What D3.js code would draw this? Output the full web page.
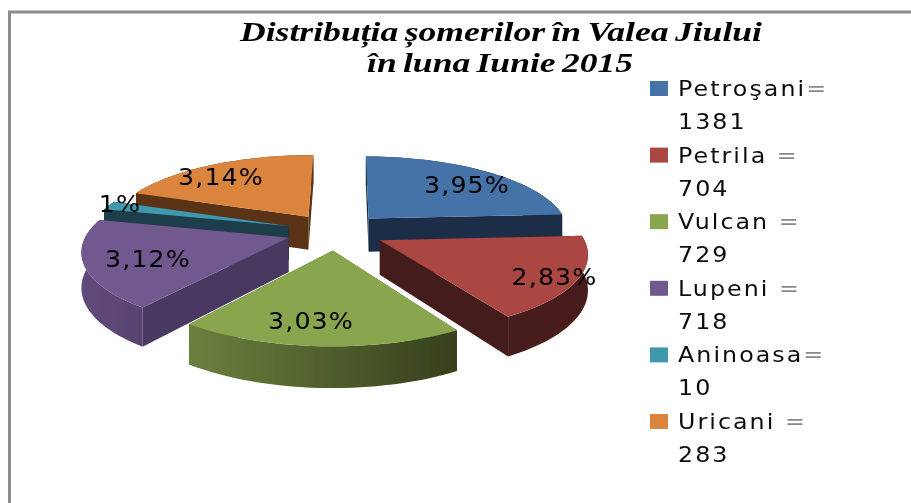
<!DOCTYPE html>
<html>
<head>
<meta charset="utf-8">
<style>
  html, body { margin: 0; padding: 0; background: #fff; }
  svg { display: block; }
  .title { font-family: "Liberation Serif", serif; font-weight: bold; font-style: italic; font-size: 28px; fill: #000; text-anchor: middle; word-spacing: -2px; }
  .legend-text { font-family: "DejaVu Sans", sans-serif; font-size: 22px; letter-spacing: 1.9px; fill: #111; }
  .legend-text .eq { fill: #888; }
  .pct { font-family: "DejaVu Sans", sans-serif; font-size: 23px; letter-spacing: 1px; fill: #000; text-anchor: middle; }
</style>
</head>
<body>
<svg id="chart" width="911" height="503"></svg>
<script src="https://cdn.jsdelivr.net/npm/d3@7"></script>
<script>
const towns = ["Petroşani", "Petrila", "Vulcan", "Lupeni", "Aninoasa", "Uricani"];
const legendFirst = ["Petroşani", "Petrila ", "Vulcan ", "Lupeni ", "Aninoasa", "Uricani "];
const legendSecond = ["1381", "704", "729", "718", "10", "283"];
const shares = [3.87, 2.79, 3.06, 3.0, 0.3, 3.14]; // slice sizes as drawn, they follow the printed % except the thin one
const pctLabels = ["3,95%", "2,83%", "3,03%", "3,12%", "1%", "3,14%"];
const titleLines = ["Distribuția șomerilor în Valea Jiului", "în luna Iunie 2015"];

const topColor = d3.scaleOrdinal().domain(towns).range(["#4572a7", "#aa4643", "#89a54e", "#71588f", "#4198af", "#db843d"]);
const wallColor = d3.scaleOrdinal().domain(towns).range(["#1b2d46", "#451b1a", "#4f5f2b", "#4a3860", "#1a3e48", "#5a3315"]);
const arcLeft = d3.scaleOrdinal().domain(towns).range(["#1b2d46", "#451b1a", "#6c803e", "#604a7c", "#1a3e48", "#5a3315"]);
const arcRight = d3.scaleOrdinal().domain(towns).range(["#1b2d46", "#4a1c1b", "#363f1c", "#574370", "#1a3e48", "#5a3315"]);

const svg = d3.select("#chart");
const defs = svg.append("defs");
defs.append("filter").attr("id", "soft")
  .append("feGaussianBlur").attr("stdDeviation", 0.4);

// page frame
svg.append("path")
  .attr("d", "M9.5,503V12H911")
  .attr("fill", "none")
  .attr("stroke", "#8c8c8c")
  .attr("stroke-width", 3);

// projection of the tilted pie
const cx = 335.5, cy = 231.5, radius = 201, flat = 75, persp = 0.15, depth = 34, explode = 0.245;

function project(x, y, drop) {
  const s = 1 / (1 - persp * y);
  return [cx + radius * x * s, cy + flat * y * s + (drop ? depth * s : 0)];
}

const turn = 0.5 * Math.PI / 180;
const pie = d3.pie().sort(null).startAngle(turn).endAngle(2 * Math.PI + turn);
const arcs = pie(shares).map((d, i) => {
  const mid = (d.startAngle + d.endAngle) / 2;
  return {
    i, town: towns[i], start: d.startAngle, end: d.endAngle, mid,
    ox: explode * Math.sin(mid),
    oy: -explode * Math.cos(mid)
  };
});

const line = d3.line();

function rim(a) {
  const n = Math.max(2, Math.ceil((a.end - a.start) * 30));
  return d3.range(n + 1).map(k => {
    const t = a.start + (a.end - a.start) * k / n;
    return [a.ox + Math.sin(t), a.oy - Math.cos(t)];
  });
}

const plot = svg.append("g").attr("filter", "url(#soft)");
const order = arcs.slice().sort((p, q) => d3.ascending(p.oy, q.oy));

order.forEach(a => {
  const g = plot.append("g").attr("class", "slice");
  const pts = rim(a);
  const apex = [a.ox, a.oy];
  const up = p => project(p[0], p[1], false);
  const down = p => project(p[0], p[1], true);

  const gradId = "arc" + a.i;
  const grad = defs.append("linearGradient").attr("id", gradId);
  grad.append("stop").attr("offset", "0").attr("stop-color", arcLeft(a.town));
  grad.append("stop").attr("offset", "1").attr("stop-color", arcRight(a.town));

  const walls = [
    { pts: [apex, pts[0]], fill: wallColor(a.town) },
    { pts: [apex, pts[pts.length - 1]], fill: wallColor(a.town) },
    { pts: pts, fill: `url(#${gradId})` }
  ];
  walls.forEach(w => { w.depth = d3.mean(w.pts, p => p[1]); });
  walls.sort((p, q) => d3.ascending(p.depth, q.depth));

  walls.forEach(w => {
    const poly = w.pts.map(up).concat(w.pts.slice().reverse().map(down));
    g.append("path").attr("d", line(poly) + "Z").attr("fill", w.fill);
  });

  const top = [up(apex)].concat(pts.map(up));
  g.append("path").attr("d", line(top) + "Z").attr("fill", topColor(a.town));
});

// percent labels, the originals are stretched sideways
const pctX = [467, 554.5, 311, 148, 120, 221];
const pctY = [193, 285, 329, 267, 212, 185];
const labelLayer = svg.append("g").attr("filter", "url(#soft)");
labelLayer.selectAll("text").data(pctLabels).enter().append("text")
  .attr("class", "pct")
  .attr("transform", (d, i) => `translate(${pctX[i]},${pctY[i]}) scale(1.1,1)`)
  .text(d => d);

// title
svg.append("g").attr("filter", "url(#soft)")
  .selectAll(".title").data(titleLines).enter().append("text")
  .attr("class", "title")
  .attr("x", (d, i) => i ? 500 : 501)
  .attr("y", (d, i) => 41 + i * 31)
  .attr("textLength", (d, i) => i ? 266 : 522)
  .attr("lengthAdjust", "spacingAndGlyphs")
  .text(d => d);

// legend
const legendY = d3.scalePoint().domain(towns).range([88, 421]);
const legend = svg.append("g").attr("filter", "url(#soft)")
  .selectAll(".legend").data(towns).enter().append("g")
  .attr("class", "legend")
  .attr("transform", d => `translate(650, ${legendY(d)})`);
legend.append("rect").attr("y", -7).attr("width", 18).attr("height", 15).attr("fill", d => topColor(d));
const firstRow = legend.append("text").attr("class", "legend-text")
  .attr("transform", "translate(28,8) scale(1.08,1)");
firstRow.append("tspan").text((d, i) => legendFirst[i]);
firstRow.append("tspan").attr("class", "eq").text("=");
legend.append("text").attr("class", "legend-text")
  .attr("transform", "translate(28,41) scale(1.08,1)")
  .text((d, i) => legendSecond[i]);
</script>
</body>
</html>
